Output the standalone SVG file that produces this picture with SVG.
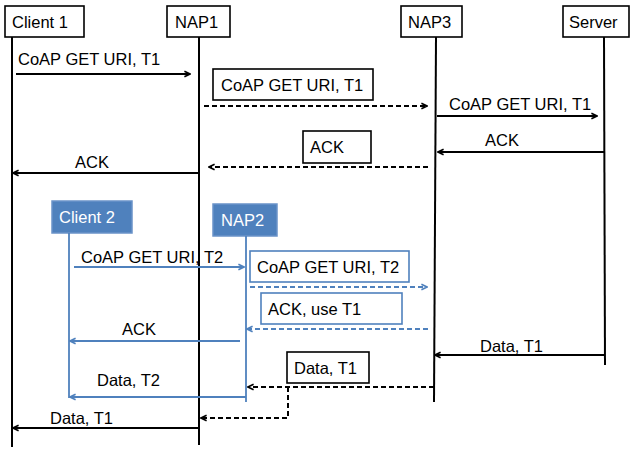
<svg xmlns="http://www.w3.org/2000/svg" width="631" height="450" viewBox="0 0 631 450">
<style>
text{font-family:"Liberation Sans",Arial,sans-serif;font-size:16.5px;fill:#000}
.box{fill:#fff;stroke:#000;stroke-width:1.6}
.bbox{fill:#fff;stroke:#4F81BD;stroke-width:1.6}
.fbox{fill:#4F81BD;stroke:#6A93C9;stroke-width:1.5}
.wt{fill:#fff}
.life{stroke:#000;stroke-width:2;fill:none}
.blife{stroke:#4F81BD;stroke-width:1.8;fill:none}
.msg{stroke:#000;stroke-width:2;fill:none;marker-end:url(#ah)}
.dmsg{stroke:#000;stroke-width:2;fill:none;stroke-dasharray:5 3;marker-end:url(#ah)}
.bmsg{stroke:#4F81BD;stroke-width:1.8;fill:none;marker-end:url(#bah)}
.bdmsg{stroke:#4F81BD;stroke-width:1.8;fill:none;stroke-dasharray:5 3;marker-end:url(#bah)}
</style>
<defs>
<marker id="ah" viewBox="0 0 10 10" refX="9" refY="5" markerWidth="8" markerHeight="8" orient="auto" markerUnits="userSpaceOnUse">
<polyline points="2,1.5 9,5 2,8.5" fill="none" stroke="#000" stroke-width="2"/>
</marker>
<marker id="bah" viewBox="0 0 10 10" refX="9" refY="5" markerWidth="8" markerHeight="8" orient="auto" markerUnits="userSpaceOnUse">
<polyline points="2,1.5 9,5 2,8.5" fill="none" stroke="#4F81BD" stroke-width="2"/>
</marker>
</defs>
<g id="client1"><rect class="box" x="5" y="6" width="79" height="31"/><text x="12" y="28">Client 1</text><line class="life" x1="12" y1="37" x2="12" y2="447"/></g>
<g id="nap1"><rect class="box" x="167" y="6" width="63" height="31"/><text x="175" y="28">NAP1</text><line class="life" x1="199" y1="37" x2="199" y2="445"/></g>
<g id="nap3"><rect class="box" x="401" y="6" width="61" height="31"/><text x="408" y="28">NAP3</text><line class="life" x1="436" y1="37" x2="434" y2="402"/></g>
<g id="server"><rect class="box" x="563" y="6" width="66" height="31"/><text x="569" y="28">Server</text><line class="life" x1="604" y1="37" x2="605" y2="365"/></g>
<g id="client2"><rect class="fbox" x="52" y="201" width="80" height="32"/><text class="wt" x="59" y="223">Client 2</text><line class="blife" x1="69" y1="233" x2="69" y2="398"/></g>
<g id="nap2"><rect class="fbox" x="213" y="204" width="64" height="32"/><text class="wt" x="221" y="226">NAP2</text><line class="blife" x1="246" y1="236" x2="246" y2="402"/></g>
<g id="connectors">
<line class="msg" x1="16" y1="74" x2="190" y2="74"/>
<line class="dmsg" x1="204" y1="106" x2="427" y2="106"/>
<line class="msg" x1="437" y1="116" x2="597" y2="116"/>
<line class="msg" x1="604" y1="152" x2="438" y2="152"/>
<line class="dmsg" x1="428" y1="167" x2="209" y2="167"/>
<line class="msg" x1="199" y1="173" x2="13" y2="173"/>
<line class="bmsg" x1="74" y1="267" x2="244" y2="267"/>
<line class="bdmsg" x1="250" y1="287" x2="427" y2="287"/>
<line class="bdmsg" x1="428" y1="329" x2="247" y2="329"/>
<line class="bmsg" x1="240" y1="341" x2="70" y2="341"/>
<line class="msg" x1="604" y1="355" x2="435" y2="355"/>
<line class="dmsg" x1="434" y1="387" x2="248" y2="387"/>
<polyline class="dmsg" points="288,387 288,418 201,418"/>
<line class="bmsg" x1="246" y1="397" x2="70" y2="397"/>
<line class="msg" x1="199" y1="428" x2="13" y2="428"/>
</g>
<g id="labels">
<text x="18" y="65">CoAP GET URI, T1</text>
<rect class="box" x="213" y="69" width="160" height="31"/><text x="221" y="91">CoAP GET URI, T1</text>
<text x="449" y="110">CoAP GET URI, T1</text>
<text x="485" y="146">ACK</text>
<rect class="box" x="303" y="131" width="68" height="32"/><text x="310" y="153">ACK</text>
<text x="75" y="168">ACK</text>
<text x="81" y="263">CoAP GET URI, T2</text>
<rect class="bbox" x="250" y="251" width="159" height="31"/><text x="257" y="273">CoAP GET URI, T2</text>
<rect class="bbox" x="261" y="293" width="141" height="31"/><text x="268" y="315">ACK, use T1</text>
<text x="122" y="335">ACK</text>
<text x="480" y="352">Data, T1</text>
<rect class="box" x="287" y="352" width="82" height="31"/><text x="294" y="374">Data, T1</text>
<text x="97" y="386">Data, T2</text>
<text x="50" y="424">Data, T1</text>
</g>
</svg>
